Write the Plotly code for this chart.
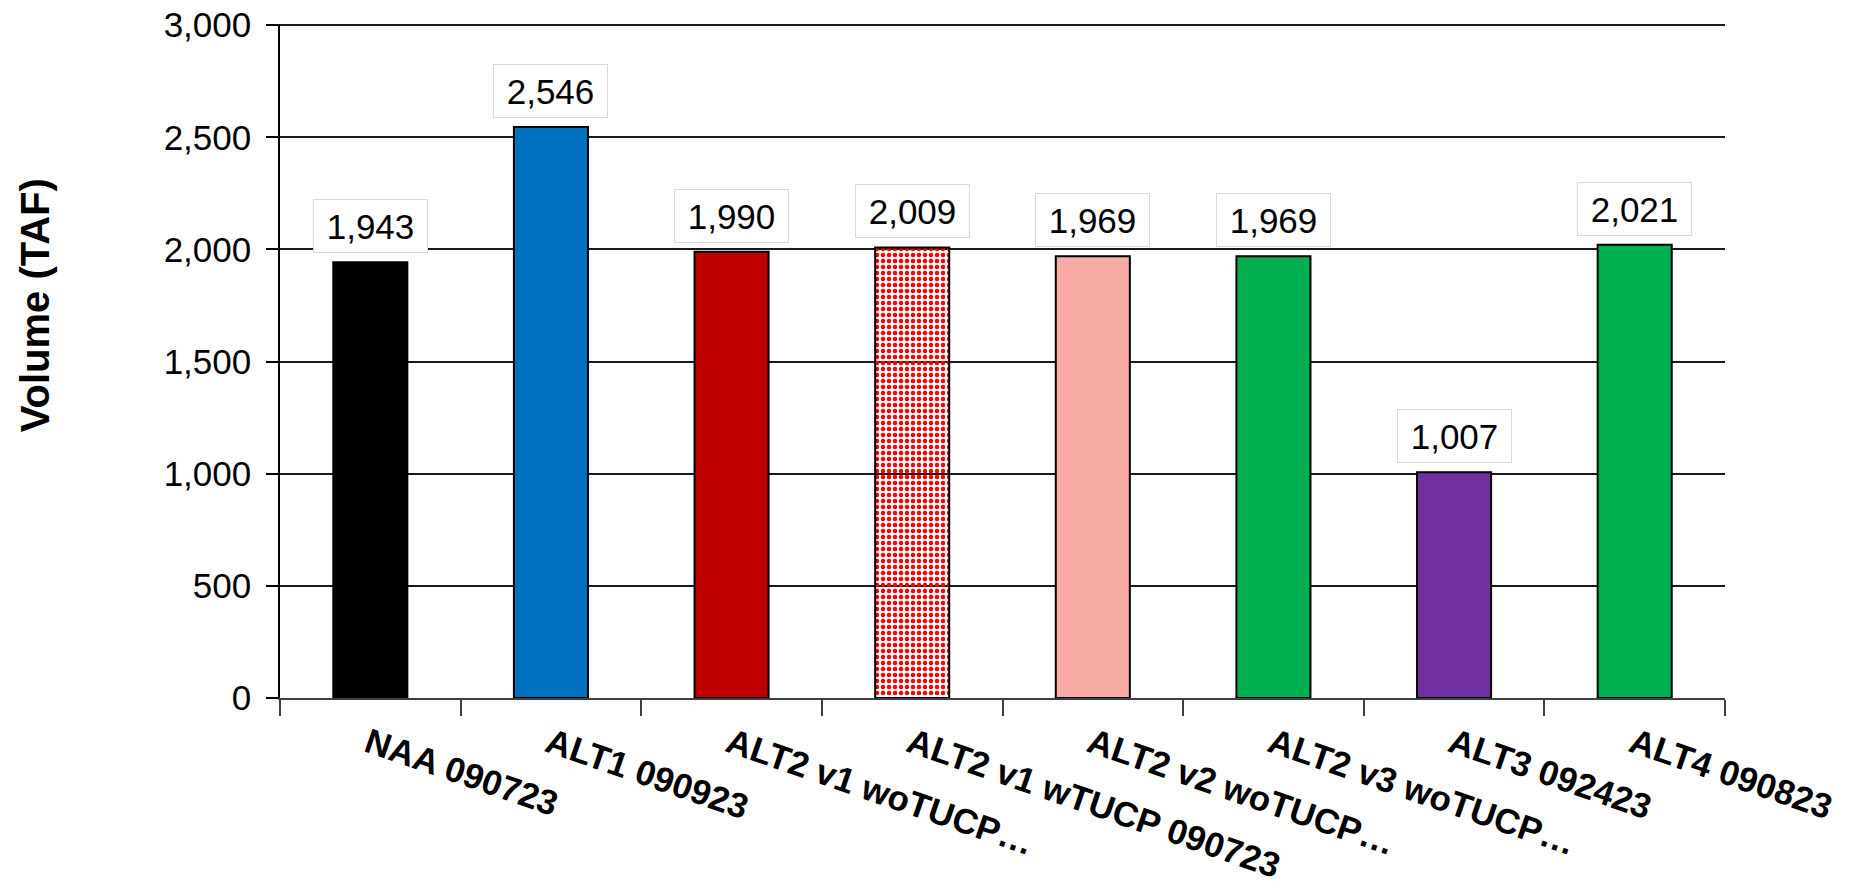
import plotly.graph_objects as go

categories = ["NAA 090723", "ALT1 090923", "ALT2 v1 woTUCP…", "ALT2 v1 wTUCP 090723",
              "ALT2 v2 woTUCP…", "ALT2 v3 woTUCP…", "ALT3 092423", "ALT4 090823"]
values = [1943, 2546, 1990, 2009, 1969, 1969, 1007, 2021]
bar_colors = ["#000000", "#0070C0", "#C00000", "#FF0000", "#F8ABA5", "#00B050", "#7030A0", "#00B050"]
patterns = ["", "", "", ".", "", "", "", ""]
y_ticks = [0, 500, 1000, 1500, 2000, 2500, 3000]

FONT = "Liberation Sans, Arial, sans-serif"

fig = go.Figure()
fig.add_trace(go.Bar(
    x=categories, y=values,
    marker=dict(
        color=bar_colors,
        line=dict(color="#000000", width=2),
        pattern=dict(
            shape=patterns,
            fgcolor=["#FFFFFF" if p else c for p, c in zip(patterns, bar_colors)],
            bgcolor=["#FF0000" if p else c for p, c in zip(patterns, bar_colors)],
            size=6, solidity=0.45, fillmode="replace",
        ),
    ),
    showlegend=False,
    hoverinfo="x+y",
))

for c, v in zip(categories, values):
    fig.add_annotation(
        x=c, y=v, xref="x", yref="y",
        text=f"{v:,}", showarrow=False,
        yanchor="bottom", yshift=9,
        font=dict(family=FONT, size=35, color="#000000"),
        bgcolor="#FFFFFF", bordercolor="#D9D9D9", borderwidth=1,
        borderpad=4, width=105, height=44,
    )

fig.add_annotation(
    x=-0.169, y=0.5825, xref="paper", yref="paper",
    text="Volume (TAF)", textangle=-90, showarrow=False,
    font=dict(family=FONT, size=40, color="#000000", weight="bold"),
    xanchor="center", yanchor="middle",
)

fig.update_layout(
    width=1853, height=890,
    margin=dict(l=272, r=136, t=16, b=200),
    paper_bgcolor="#FFFFFF", plot_bgcolor="#FFFFFF",
    bargap=0.59,
    font=dict(family=FONT, color="#000000"),
)
fig.update_xaxes(
    type="category", automargin=False,
    showline=True, linecolor="#404040", linewidth=1.5,
    ticks="outside", tickson="boundaries", ticklen=16, tickcolor="#404040", tickwidth=1.5,
    tickangle=19,
    tickfont=dict(family=FONT, size=35, color="#000000", weight="bold"),
    ticklabelstandoff=10, ticklabelshift=-2,
    showgrid=False,
)
fig.update_yaxes(
    range=[0, 3005], tickvals=y_ticks, tickformat=",", automargin=False,
    ticklabeloverflow="allow",
    showline=True, linecolor="#000000", linewidth=1.5,
    ticks="outside", ticklen=12, tickcolor="#000000", tickwidth=1.5,
    showgrid=True, gridcolor="#1a1a1a", gridwidth=1.5,
    zeroline=False,
    tickfont=dict(family=FONT, size=35, color="#000000"),
    ticklabelstandoff=8,
)

fig.write_html("out.html")
